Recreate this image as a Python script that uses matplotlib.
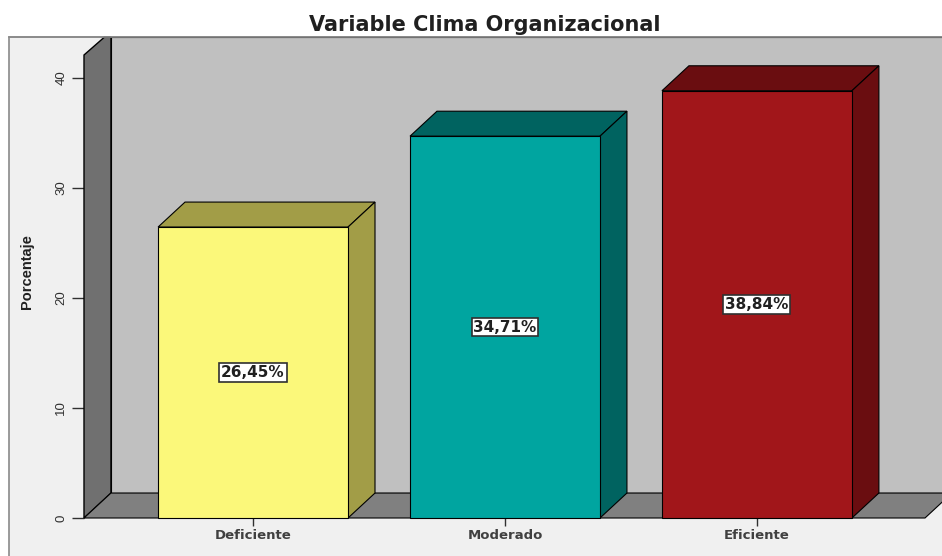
import matplotlib.pyplot as plt
from matplotlib.patches import Polygon, Rectangle
from matplotlib.lines import Line2D

plt.rcParams['font.family'] = ['Liberation Sans', 'DejaVu Sans']

categorias = ['Deficiente', 'Moderado', 'Eficiente']
porcentajes = [26.45, 34.71, 38.84]
etiquetas = ['26,45%', '34,71%', '38,84%']
colores = ['#fbf87a', '#00a5a0', '#a1161a']
colores_lado = ['#a29d47', '#006360', '#6a0d10']
yticks = [0, 10, 20, 30, 40]

W, H = 942, 556
fig = plt.figure(figsize=(9.42, 5.56), dpi=100)
fig.patch.set_facecolor('white')

# marco exterior gris claro
fig.patches.append(Rectangle((9 / W, -0.01), 1, (556 - 37) / H + 0.01,
                             transform=fig.transFigure, facecolor='#f0f0f0',
                             edgecolor='#8a8a8a', lw=1.2, zorder=-5))

ax = fig.add_axes([84 / W, (H - 518) / H, (925 - 84) / W, (518 - 55) / H])
xl, xr = -0.671, 2.667
ymax = 42.09
ax.set_xlim(xl, xr)
ax.set_ylim(0, ymax)
ax.patch.set_visible(False)
for s in ax.spines.values():
    s.set_visible(False)

# profundidad 3D en unidades de datos
dx, dy = 0.107, 2.27
ytop = 43.7
xext = 3.0
w = 0.754

# pared del fondo
ax.add_patch(Polygon([(xl + dx, dy), (xext, dy), (xext, ytop), (xl + dx, ytop)],
                     closed=True, facecolor='#c0c0c0', edgecolor='black', lw=0.8,
                     clip_on=False, zorder=1))
# pared izquierda
ax.add_patch(Polygon([(xl, 0), (xl + dx, dy), (xl + dx, ytop),
                      (xl + dx * 0.75, ytop), (xl, ymax)],
                     closed=True, facecolor='#707070', edgecolor='black', lw=1.0,
                     clip_on=False, zorder=2))
# suelo
ax.add_patch(Polygon([(xl, 0), (xr, 0), (xr + dx, dy), (xl + dx, dy)],
                     closed=True, facecolor='#808080', edgecolor='black', lw=0.8,
                     clip_on=False, zorder=2))

for i, v in enumerate(porcentajes):
    x0, x1 = i - w / 2, i + w / 2
    ax.add_patch(Polygon([(x0, v), (x1, v), (x1 + dx, v + dy), (x0 + dx, v + dy)],
                         closed=True, facecolor=colores_lado[i], edgecolor='black',
                         lw=0.8, zorder=3, clip_on=False))
    ax.add_patch(Polygon([(x1, 0), (x1 + dx, dy), (x1 + dx, v + dy), (x1, v)],
                         closed=True, facecolor=colores_lado[i], edgecolor='black',
                         lw=0.8, zorder=3, clip_on=False))
    ax.add_patch(Rectangle((x0, 0), w, v, facecolor=colores[i], edgecolor='black',
                           lw=0.8, zorder=4, clip_on=False))
    ax.text(i, v / 2, etiquetas[i], ha='center', va='center', fontsize=11,
            fontweight='bold', color='#202020', zorder=5, family=['DejaVu Sans'],
            bbox=dict(boxstyle='square,pad=0.12', facecolor='white',
                      edgecolor='#303030', lw=1.2))

ax.set_yticks(yticks)
ax.set_yticklabels([str(t) for t in yticks], rotation=90, va='center',
                   fontsize=9.5, color='#303030')
ax.tick_params(axis='y', length=9, width=1, color='#303030', pad=3)
ax.set_xticks(range(len(categorias)))
ax.set_xticklabels(categorias, fontsize=9.5, fontweight='bold', color='#404040',
                   family=['DejaVu Sans'])
ax.tick_params(axis='x', length=6, width=1, color='#303030', pad=2)

# linea superior del marco por encima de las paredes
fig.add_artist(Line2D([9 / W, 1], [(556 - 37) / H] * 2, transform=fig.transFigure,
                      color='#8a8a8a', lw=1.2))

fig.text(485 / W, 1 - 25 / H, 'Variable Clima Organizacional', ha='center',
         va='center', fontsize=15, fontweight='bold', color='#202020',
         family=['DejaVu Sans'])
fig.text(27 / W, 1 - 272 / H, 'Porcentaje', rotation=90, ha='center',
         va='center', fontsize=10.5, fontweight='bold', color='#202020')

fig.savefig('out.png', dpi=100)
